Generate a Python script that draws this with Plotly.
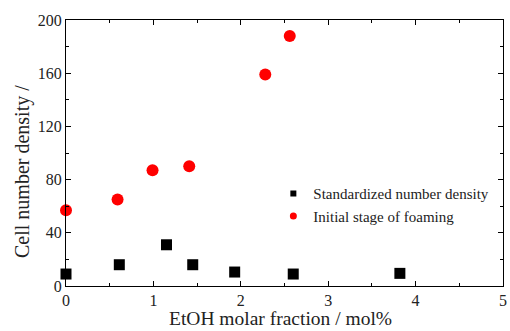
import plotly.graph_objects as go

std_x = [0.0, 0.61, 1.15, 1.45, 1.93, 2.60, 3.82]
std_y = [9, 16, 31, 16, 10.5, 9, 9.5]
init_x = [0.0, 0.59, 0.99, 1.41, 2.28, 2.56]
init_y = [57, 65, 87, 90, 159, 188]
names = ["Standardized number density", "Initial stage of foaming"]

fig = go.Figure()
fig.add_trace(go.Scatter(x=std_x, y=std_y, mode="markers", name=names[0], showlegend=False,
                         marker=dict(symbol="square", size=11, color="black"), cliponaxis=False))
fig.add_trace(go.Scatter(x=init_x, y=init_y, mode="markers", name=names[1], showlegend=False,
                         marker=dict(symbol="circle", size=12, color="#ff0000"), cliponaxis=False))
# legend entries with small symbols, as in the reference
fig.add_trace(go.Scatter(x=[None], y=[None], mode="markers", name=names[0],
                         marker=dict(symbol="square", size=6, color="black")))
fig.add_trace(go.Scatter(x=[None], y=[None], mode="markers", name=names[1],
                         marker=dict(symbol="circle", size=7, color="#ff0000")))

font = "Liberation Serif, Times New Roman, serif"
axis_common = dict(showline=True, linecolor="black", linewidth=1.2, mirror="ticks",
                   ticks="inside", ticklen=5, tickcolor="black", showgrid=False, zeroline=False,
                   ticklabeloverflow="allow",
                   tickfont=dict(family=font, size=16, color="#222"))
fig.update_xaxes(range=[0, 5], dtick=1, minor=dict(ticks="inside", ticklen=3, dtick=0.5, tickcolor="black"),
                 **axis_common)
fig.update_yaxes(range=[0, 200], dtick=40, minor=dict(ticks="inside", ticklen=3, dtick=20, tickcolor="black"),
                 **axis_common)

fig.update_layout(
    width=510, height=331, margin=dict(l=66, r=3, t=20, b=45),
    paper_bgcolor="white", plot_bgcolor="white",
    font=dict(family=font, color="#222"),
    showlegend=True,
    legend=dict(x=0.4745, y=0.409, xanchor="left", yanchor="top", bgcolor="rgba(0,0,0,0)",
                font=dict(family=font, size=15, color="#222"), itemsizing="trace", tracegroupgap=0),
    annotations=[
        dict(text="EtOH molar fraction / mol%", xref="paper", yref="paper", x=0.49, y=-0.169,
             xanchor="center", yanchor="bottom", showarrow=False, font=dict(family=font, size=19.5, color="#222")),
        dict(text="Cell number density /", xref="paper", yref="paper", x=-0.0998, y=0.43,
             xanchor="center", yanchor="middle", textangle=-90, showarrow=False,
             font=dict(family=font, size=20, color="#222")),
    ],
)
fig.write_html("out.html")
